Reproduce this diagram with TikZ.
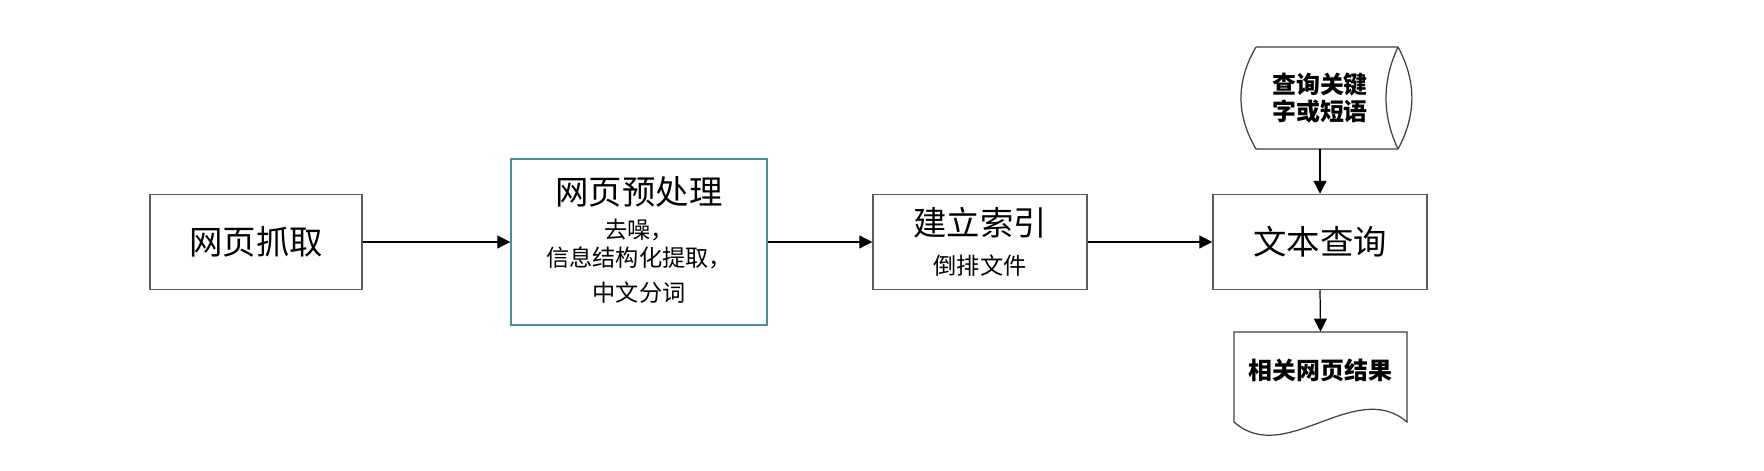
\documentclass[tikz,border=0pt]{standalone}
\usepackage{fontspec}
\newfontfamily\cjk{Noto Sans CJK SC}
\usetikzlibrary{positioning,arrows.meta}
\definecolor{boxgray}{RGB}{90,90,90}
\definecolor{boxteal}{RGB}{75,140,160}
\tikzset{
  procbox/.style={draw=boxgray, line width=0.85pt, minimum width=4.28cm, minimum height=1.9cm, inner sep=0pt},
  bigtext/.style={font=\cjk\fontsize{19pt}{22pt}\selectfont},
  smalltext/.style={font=\cjk\fontsize{13.2pt}{16pt}\selectfont},
  boldtext/.style={font=\cjk\bfseries\fontsize{13.6pt}{15.9pt}\selectfont, align=center, inner sep=0pt},
  flow/.style={-{Triangle[length=7.4pt,width=7.4pt]}, line width=0.7pt}
}

\begin{document}
\begin{tikzpicture}
\useasboundingbox (0,0) rectangle (35.28,9.4);
% main flow
\node[procbox, bigtext, minimum width=4.24cm] (crawl) at (5.12,4.56) {网页抓取};
\node[procbox, draw=boxteal, minimum width=5.12cm, minimum height=3.32cm] (prep) at (12.78,4.56) {};
\node[bigtext] (preptitle) at ([yshift=1.0cm]prep.center) {网页预处理};
\node[smalltext] (prepnoise) at ([yshift=0.24cm]prep.center) {去噪，};
\node[smalltext] (prepextract) at ([yshift=-0.32cm]prep.center) {信息结构化提取，};
\node[smalltext] (prepseg) at ([yshift=-1.02cm]prep.center) {中文分词};
\node[procbox] (index) at (19.6,4.56) {};
\node[bigtext] (indextitle) at ([yshift=0.38cm]index.center) {建立索引};
\node[smalltext] (indexfile) at ([yshift=-0.48cm]index.center) {倒排文件};
\node[procbox, bigtext] (search) at (26.4,4.56) {文本查询};
% query keywords (stored data)
\draw[line width=0.7pt, boxgray!70!black]
  (25.12,8.46) -- (27.96,8.46)
  .. controls (28.33,7.78) and (28.33,7.1) .. (27.96,6.42)
  -- (25.12,6.42)
  .. controls (24.72,7.1) and (24.72,7.78) .. (25.12,8.46);
\draw[line width=0.7pt, boxgray!70!black]
  (27.96,8.46) .. controls (27.64,7.78) and (27.64,7.1) .. (27.96,6.42);
\node[boldtext, minimum height=2.04cm] (query) at (26.4,7.44) {查询关键\\字或短语};
% result document
\draw[line width=0.7pt, boxgray!70!black]
  (24.68,2.76) -- (28.14,2.76) -- (28.14,0.96)
  .. controls (27.1,1.85) and (25.7,0.05) .. (24.68,0.96) -- cycle;
\node[boldtext, minimum height=1.52cm] (result) at (26.41,2.0) {相关网页结果};
% arrows
\draw[flow] (crawl) -- (prep);
\draw[flow] (prep) -- (index);
\draw[flow] (index) -- (search);
\draw[flow] (query.south) -- (search.north);
\draw[flow] (search.south) -- (result.north);
\end{tikzpicture}
\end{document}
